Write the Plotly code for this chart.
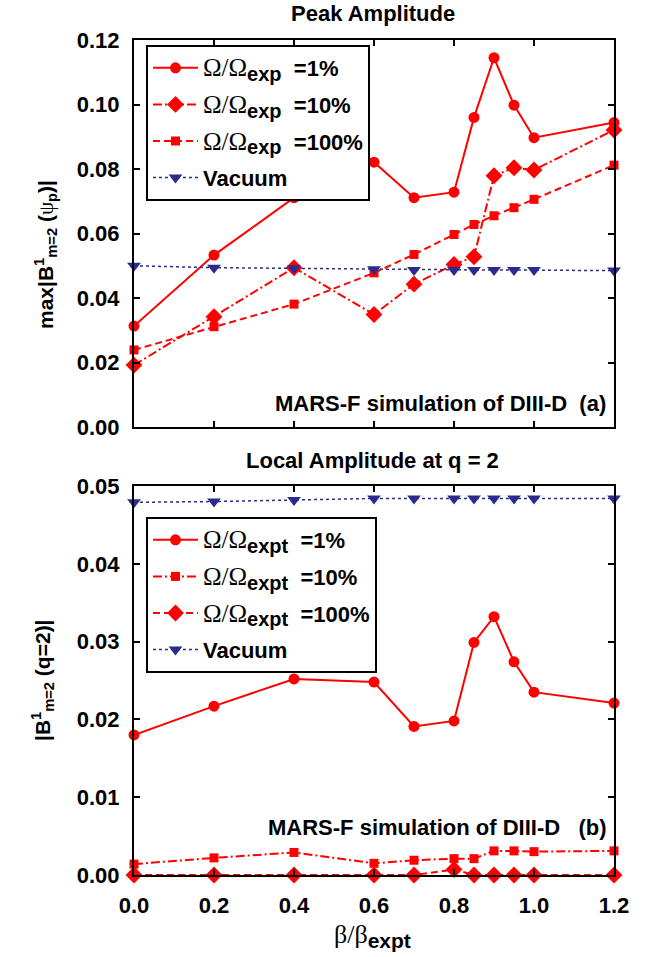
import plotly.graph_objects as go

# beta / beta_expt scan
beta = [0.0, 0.2, 0.4, 0.6, 0.7, 0.8, 0.85, 0.9, 0.95, 1.0, 1.2]

# (a) peak amplitude max|B1_m=2(psi_p)|
peak_1 = [0.0313, 0.0533, 0.0711, 0.0821, 0.0711, 0.0728, 0.0960, 0.1145, 0.0998, 0.0897, 0.0944]
peak_10 = [0.0192, 0.0342, 0.0494, 0.0349, 0.0443, 0.0504, 0.0528, 0.0779, 0.0804, 0.0797, 0.0921]
peak_100 = [0.0239, 0.0311, 0.0381, 0.0478, 0.0535, 0.0597, 0.0628, 0.0655, 0.0680, 0.0706, 0.0812]
peak_vac = [0.0500, 0.0494, 0.0492, 0.0489, 0.0487, 0.0487, 0.0487, 0.0487, 0.0487, 0.0487, 0.0485]

# (b) local amplitude at q = 2
loc_1 = [0.0180, 0.0217, 0.0252, 0.0248, 0.0191, 0.0198, 0.0299, 0.0332, 0.0274, 0.0235, 0.0221]
loc_10 = [0.0014, 0.0022, 0.0029, 0.0015, 0.0019, 0.0021, 0.0021, 0.0031, 0.0031, 0.0030, 0.0031]
loc_100 = [0.0000, 0.0000, 0.0000, 0.0000, 0.0000, 0.0007, 0.0000, 0.0000, 0.0000, 0.0000, 0.0000]
loc_vac = [0.0479, 0.0480, 0.0482, 0.0484, 0.0484, 0.0484, 0.0484, 0.0484, 0.0484, 0.0484, 0.0484]

x_ticks = [0.0, 0.2, 0.4, 0.6, 0.8, 1.0, 1.2]
x_ticktext = ["0.0", "0.2", "0.4", "0.6", "0.8", "1.0", "1.2"]
peak_ticks = [0.0, 0.02, 0.04, 0.06, 0.08, 0.10, 0.12]
peak_ticktext = ["0.00", "0.02", "0.04", "0.06", "0.08", "0.10", "0.12"]
loc_ticks = [0.0, 0.01, 0.02, 0.03, 0.04, 0.05]
loc_ticktext = ["0.00", "0.01", "0.02", "0.03", "0.04", "0.05"]

RED = "#FF0000"
BLUE = "#2B2B8E"
SANS = "Liberation Sans"
SERIF = "Liberation Serif"

W, H = 648, 957
L, R, T, B = 134, 34, 40, 82
PW, PH = W - L - R, H - T - B


def px(x):
    return (x - L) / PW


def py(y):
    return (H - B - y) / PH


def omega(sub, pct):
    return (f"<span style=\"font-family:'{SERIF}';font-weight:normal;font-size:25px\">Ω/Ω</span>"
            f"<sub><span style=\"font-size:20px\">{sub}</span></sub>  ={pct}")


DASHDOT = "9px,3px,2px,3px"
DASHED = "7px,4px"

fig = go.Figure()

top = [
    (peak_1, omega("exp", "1%"), "solid", "circle", 11),
    (peak_10, omega("exp", "10%"), DASHDOT, "diamond", 13),
    (peak_100, omega("exp", "100%"), DASHED, "square", 9),
]
for i, (ys, name, dash, sym, size) in enumerate(top):
    fig.add_trace(go.Scatter(
        x=beta, y=ys, name=name, mode="lines+markers", xaxis="x", yaxis="y",
        line=dict(color=RED, width=2, dash=dash),
        marker=dict(symbol=sym, size=size, color=RED),
        cliponaxis=False, legend="legend", legendgroup=f"a{i}"))
fig.add_trace(go.Scatter(
    x=beta, y=peak_vac, name="Vacuum", mode="lines+markers", xaxis="x", yaxis="y",
    line=dict(color=BLUE, width=1.5, dash="dot"),
    marker=dict(symbol="triangle-down", size=12, color=BLUE),
    cliponaxis=False, legend="legend", legendgroup="a3"))

bot = [
    (loc_1, omega("expt", "1%"), "solid", "circle", 11),
    (loc_10, omega("expt", "10%"), DASHDOT, "square", 9),
    (loc_100, omega("expt", "100%"), DASHED, "diamond", 13),
]
for i, (ys, name, dash, sym, size) in enumerate(bot):
    fig.add_trace(go.Scatter(
        x=beta, y=ys, name=name, mode="lines+markers", xaxis="x2", yaxis="y2",
        line=dict(color=RED, width=2, dash=dash),
        marker=dict(symbol=sym, size=size, color=RED),
        cliponaxis=False, legend="legend2", legendgroup=f"b{i}"))
fig.add_trace(go.Scatter(
    x=beta, y=loc_vac, name="Vacuum", mode="lines+markers", xaxis="x2", yaxis="y2",
    line=dict(color=BLUE, width=1.5, dash="dot"),
    marker=dict(symbol="triangle-down", size=12, color=BLUE),
    cliponaxis=False, legend="legend2", legendgroup="b3"))

tickfont = dict(family=SANS, size=22, color="black", weight="bold")
axis_common = dict(showline=True, linecolor="black", linewidth=2, mirror="ticks",
                   ticks="inside", ticklen=6, tickwidth=1.5, tickcolor="black",
                   showgrid=False, zeroline=False, tickfont=tickfont)

y_top0 = py(427)
y_bot1 = py(486)

legend_common = dict(xanchor="left", yanchor="top", bgcolor="white",
                     bordercolor="black", borderwidth=2,
                     font=dict(family=SANS, size=22, color="black", weight="bold"),
                     itemwidth=45, tracegroupgap=5)

fig.update_layout(
    width=W, height=H,
    margin=dict(l=L, r=R, t=T, b=B),
    paper_bgcolor="white", plot_bgcolor="white",
    font=dict(family=SANS, size=22, color="black"),
    xaxis=dict(domain=[0, 1], range=[0, 1.2], anchor="y", tickvals=x_ticks,
               ticktext=x_ticktext, showticklabels=False, **axis_common),
    yaxis=dict(domain=[y_top0, 1], range=[0, 0.12], anchor="x", tickvals=peak_ticks,
               ticktext=peak_ticktext, ticklabelstandoff=8, **axis_common),
    xaxis2=dict(domain=[0, 1], range=[0, 1.2], anchor="y2", tickvals=x_ticks,
                ticktext=x_ticktext, ticklabelstandoff=10, **axis_common),
    yaxis2=dict(domain=[0, y_bot1], range=[0, 0.05], anchor="x2", tickvals=loc_ticks,
                ticktext=loc_ticktext, ticklabelstandoff=8, **axis_common),
    legend=dict(x=px(146), y=py(45), **legend_common),
    legend2=dict(x=px(146), y=py(517), **legend_common),
    showlegend=True,
)

ann_font = dict(family=SANS, size=22, color="black", weight="bold")
fig.add_annotation(text="Peak Amplitude", x=px(373), y=py(13), xref="paper", yref="paper",
                   showarrow=False, font=ann_font, xanchor="center", yanchor="middle")
fig.add_annotation(text="Local Amplitude at q = 2", x=px(372), y=py(460), xref="paper",
                   yref="paper", showarrow=False, font=ann_font, xanchor="center",
                   yanchor="middle")
fig.add_annotation(text="MARS-F simulation of DIII-D  (a)", x=px(608), y=py(403),
                   xref="paper", yref="paper", showarrow=False, font=ann_font,
                   xanchor="right", yanchor="middle")
fig.add_annotation(text="MARS-F simulation of DIII-D   (b)", x=px(609), y=py(827),
                   xref="paper", yref="paper", showarrow=False, font=ann_font,
                   xanchor="right", yanchor="middle")
fig.add_annotation(text="max|B<sup>1</sup><sub>m=2</sub> (<span style=\"font-family:'"
                   + SERIF + "';font-weight:normal\">ψ</span><sub>p</sub>)|",
                   x=px(45), y=py(255), xref="paper", yref="paper", showarrow=False,
                   textangle=-90, font=dict(family=SANS, size=21, color="black",
                                            weight="bold"),
                   xanchor="center", yanchor="middle")
fig.add_annotation(text="|B<sup>1</sup><sub>m=2</sub> (q=2)|",
                   x=px(42), y=py(680), xref="paper", yref="paper", showarrow=False,
                   textangle=-90, font=dict(family=SANS, size=21, color="black",
                                            weight="bold"),
                   xanchor="center", yanchor="middle")
fig.add_annotation(text="<span style=\"font-family:'" + SERIF
                   + "';font-weight:normal;font-size:26px\">β/β</span>"
                   "<sub><span style=\"font-size:21px\">expt</span></sub>",
                   x=px(372), y=py(936), xref="paper", yref="paper", showarrow=False,
                   font=dict(family=SANS, size=24, color="black", weight="bold"),
                   xanchor="center", yanchor="middle")

fig.write_html("out.html")
